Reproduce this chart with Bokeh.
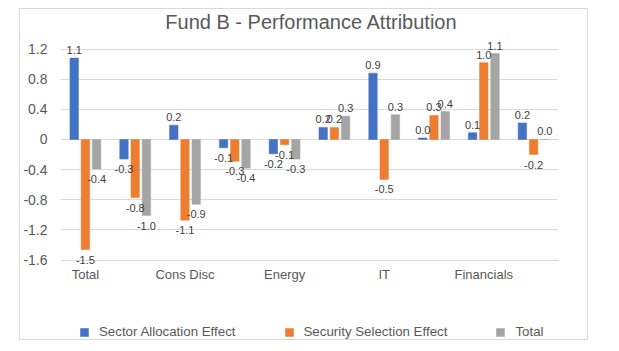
from bokeh.plotting import figure
from bokeh.models import ColumnDataSource, FixedTicker, Legend, LegendItem, LabelSet, Label, Range1d
from bokeh.core.properties import value
from bokeh.transform import dodge
from bokeh.embed import file_html
from bokeh.resources import INLINE

categories = ["Total", "Comm Svcs", "Cons Disc", "Cons Staples", "Energy",
              "Health Care", "IT", "Industrials", "Financials", "Materials"]
shown_labels = ["Total", "Cons Disc", "Energy", "IT", "Financials"]
series_names = ["Sector Allocation Effect", "Security Selection Effect", "Total"]
sector_allocation = [1.08, -0.26, 0.19, -0.11, -0.19, 0.16, 0.88, 0.02, 0.09, 0.22]
security_selection = [-1.46, -0.77, -1.07, -0.29, -0.07, 0.16, -0.53, 0.32, 1.02, -0.20]
total = [-0.39, -1.01, -0.86, -0.38, -0.26, 0.31, 0.33, 0.37, 1.14, 0.00]
colors = ["#4472C4", "#ED7D31", "#A5A5A5"]
y_ticks = [-1.6, -1.2, -0.8, -0.4, 0, 0.4, 0.8, 1.2]
title_text = "Fund B - Performance Attribution"

FONT = "Liberation Sans"

# frame spans the full height so that labels / legend / title are not clipped
p = figure(width=567, height=330, x_range=Range1d(-0.5, 9.5), y_range=Range1d(-2.654, 1.725),
           output_backend="svg", toolbar_location=None,
           min_border_left=38, min_border_right=29, min_border_top=0, min_border_bottom=0)
p.margin = (9, 0, 0, 20)
p.styles = {"outline": "1px solid #d9d9d9"}
p.outline_line_color = None
p.background_fill_color = "white"
p.border_fill_color = "white"
p.xaxis.visible = False

p.add_layout(Label(x=251, y=318, x_units="screen", y_units="screen", text=title_text,
                   text_align="center", text_baseline="middle", text_font=FONT,
                   text_font_size="20px", text_color="#595959"))

x_idx = list(range(len(categories)))
offsets = [-0.225, 0.0, 0.225]
series = [sector_allocation, security_selection, total]

items = []
for name, vals, col, off in zip(series_names, series, colors, offsets):
    src = ColumnDataSource(dict(x=x_idx, v=vals))
    r = p.vbar(x=dodge("x", off, range=p.x_range), top="v", bottom=0, width=0.17, source=src,
               fill_color=col, line_color=col, line_width=0.5)
    items.append(LegendItem(label=name, renderers=[r]))
    pos = [(x, v) for x, v in zip(x_idx, vals) if v >= 0]
    neg = [(x, v) for x, v in zip(x_idx, vals) if v < 0]
    for subset, base, yoff in ((pos, "bottom", 4), (neg, "top", -6)):
        if not subset:
            continue
        s = ColumnDataSource(dict(x=[a + off for a, _ in subset], v=[b for _, b in subset],
                                  t=["%.1f" % b for _, b in subset]))
        p.add_layout(LabelSet(x="x", y="v", text="t", source=s, text_align="center",
                              text_baseline=base, y_offset=yoff, text_font=value(FONT),
                              text_font_size="11px", text_color="#404040"))

p.xgrid.grid_line_color = None
p.ygrid.ticker = FixedTicker(ticks=y_ticks)
p.ygrid.grid_line_color = "#d9d9d9"
p.ygrid.grid_line_width = 1

p.yaxis.ticker = FixedTicker(ticks=y_ticks)
p.yaxis.major_label_overrides = {t: ("0" if t == 0 else "%.1f" % t) for t in y_ticks}
p.yaxis.axis_line_color = None
p.yaxis.major_tick_line_color = None
p.yaxis.minor_tick_line_color = None
p.yaxis.major_tick_out = 0
p.yaxis.major_tick_in = 0
p.yaxis.major_label_standoff = 13
p.yaxis.major_label_text_font = FONT
p.yaxis.major_label_text_font_size = "14px"
p.yaxis.major_label_text_color = "#595959"

# category labels (every other category is labelled, as in the source chart)
shown_pos = [categories.index(c) for c in shown_labels]
cat_src = ColumnDataSource(dict(x=shown_pos, y=[y_ticks[0]] * len(shown_pos), t=shown_labels))
p.add_layout(LabelSet(x="x", y="y", text="t", source=cat_src, text_align="center",
                      text_baseline="middle", y_offset=-14, text_font=value(FONT),
                      text_font_size="13px", text_color="#595959"))

legend = Legend(items=items, location=(19, 0), orientation="horizontal",
                glyph_width=10, glyph_height=10, label_standoff=10, spacing=48,
                padding=0, margin=0, border_line_color=None, background_fill_alpha=0,
                label_text_font=FONT, label_text_font_size="13.3px", label_text_color="#595959")
p.add_layout(legend, "center")

open("out.html", "w").write(file_html(p, INLINE))
